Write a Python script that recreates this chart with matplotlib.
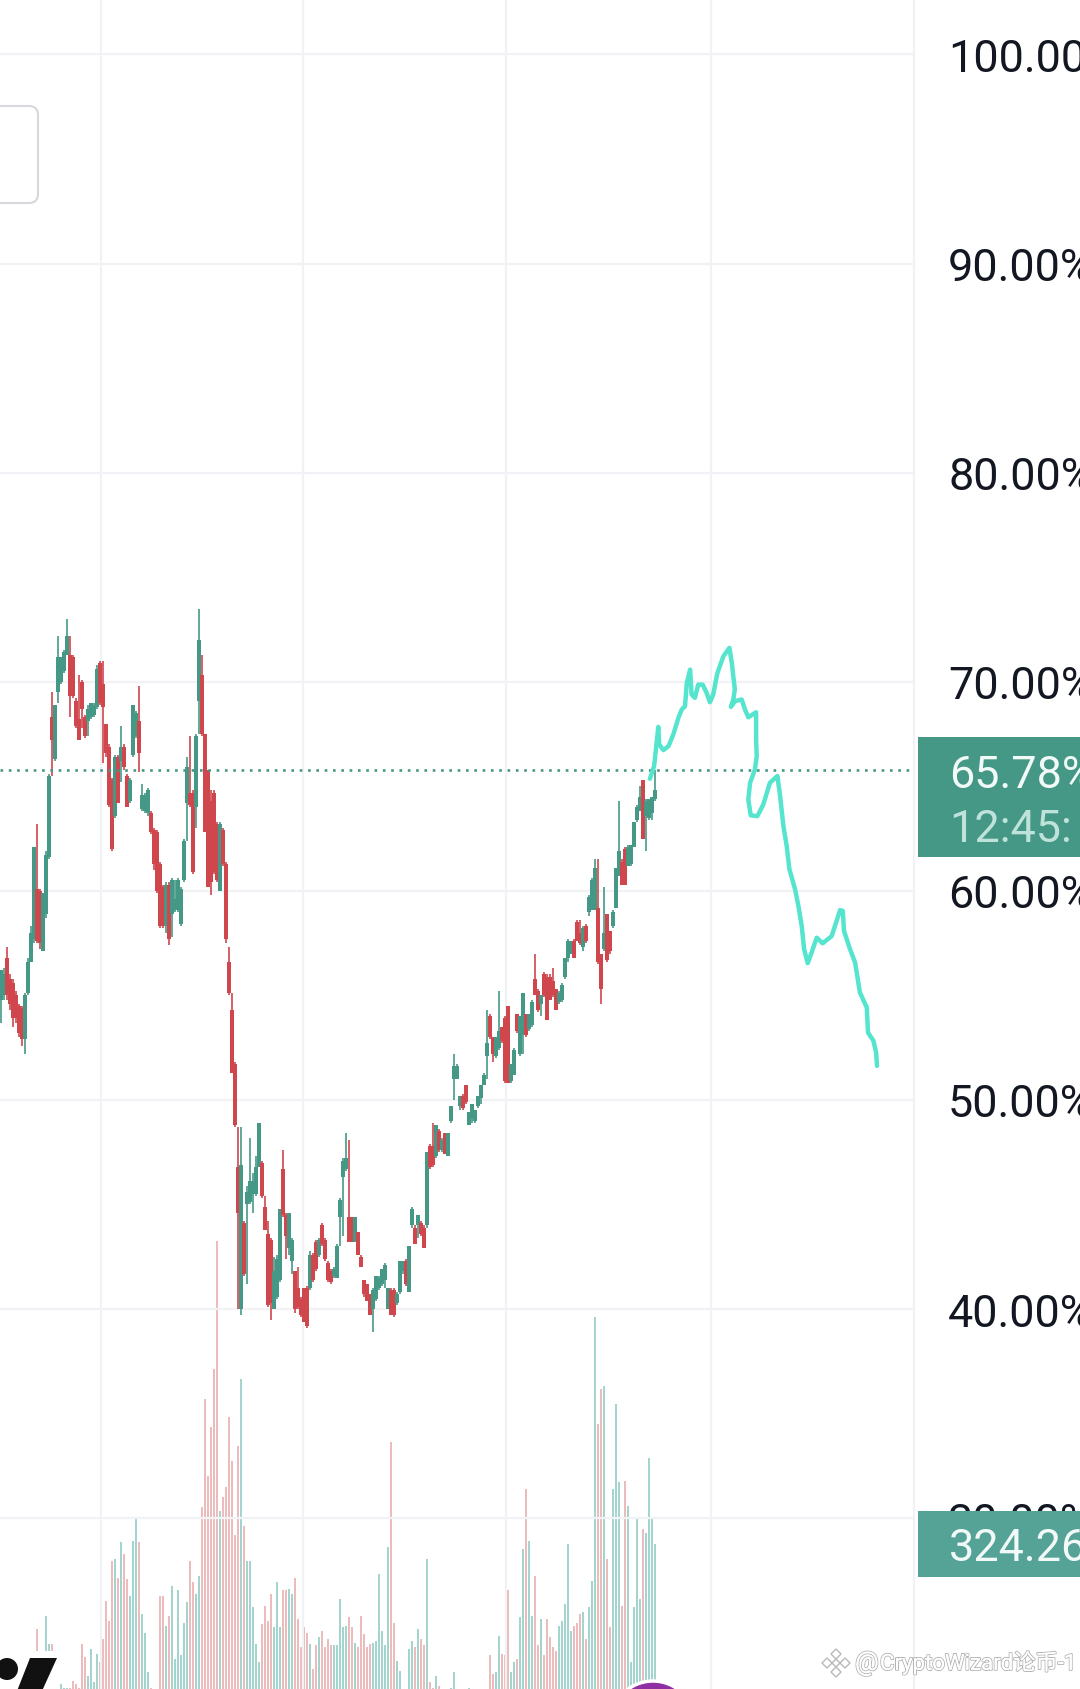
import numpy as np
import matplotlib
matplotlib.use('Agg')
import matplotlib.pyplot as plt
import matplotlib.patheffects as pe
from matplotlib.patches import Rectangle, FancyBboxPatch, Circle, Polygon, RegularPolygon

plt.rcParams['font.family'] = ['Roboto', 'Noto Sans CJK SC', 'DejaVu Sans']

# candles, percent values, one line per 10 bars
opens = [54.8,55,56.8,55.8,55.6,55,54.5,54.4,52.9,55.1,
 56.6,57.7,60.1,60,57.1,58.9,61.6,68.3,66.3,69.5,
 70,70.5,71.3,71.3,71.2,69.1,68.2,70,68.3,68.1,
 68.3,68.4,68.8,70.9,69.9,68,66.9,65.3,63.6,66.4,
 66.2,66.9,65.5,64.3,66.5,67.4,68.1,63.9,63.8,63.7,
 63.7,62.9,62.8,61.3,60.2,58.3,60.3,58.9,59.1,59.1,
 58.4,60.5,64.2,64.7,64.7,64,69.1,70.3,67.5,65.8,
 64.3,64.7,63.2,60,62.9,61.3,56.6,54.3,51.7,46.8,
 40,44.1,45,45.1,45.5,45.5,46.8,47,44.9,43.6,
 43.3,40,40.6,41.4,46.7,44.5,42.9,42.3,41.8,41,
 40.5,41,41,41,42.6,43.2,42.6,44,43.3,42.2,
 41.8,41.6,41.5,44.4,46.3,46.7,44.4,44.4,43.2,43.7,
 42.5,41.4,41.2,40.7,40,40.5,41,41.2,41.4,40,
 40.9,40.9,40.3,40.8,41.8,42.3,40.8,44,43.9,44,
 44.1,43.9,44,47.8,47.8,47.3,48.5,47.6,48.4,47.3,
 49,51,51,49.7,50.2,50.7,48.8,49.1,49,49.7,
 50.1,50.7,52.1,54,53,52.1,52.5,53.5,53.9,54.5,
 50.9,51.2,54.1,52.2,53.1,54.1,53.4,53.6,55.8,55.2,
 54.6,56,55.9,55.9,55.7,55.3,54.7,54.8,55.9,56.8,
 57,57.6,58.5,58,57.3,58.3,59,59.1,59.1,59.2,
 57,57.2,58.9,58.1,58.3,59.2,60.7,61.4,62,61.2,
 61.3,62.1,63.4,63.8,65.3,63.6,63.5,63.7,64.4]
closes = [56.2,56,55,54.6,53.9,53.9,53.2,52.9,55,56.6,
 58,62.1,57.6,57.5,59.9,61.7,65.5,67.2,68.9,71.2,
 71.2,71.4,72.2,69.3,69.3,67.9,67.2,68.7,67.4,68.7,
 69,68.9,70.6,69,68.8,66.6,64.1,62,66.4,64.2,
 66.9,65.9,64,65.3,68.9,68.5,66.6,64.6,64.6,64.8,
 62.8,61.3,60,58.3,58.3,60.3,57.7,60.5,59.6,60.5,
 60.1,62.4,65.9,64.1,60.9,67.4,72,67.5,62.8,60.2,
 60.4,60.9,60.5,63.2,61.3,57.7,55.1,51.3,48.8,44.6,
 46.9,41.7,45.6,46.1,46.1,46.8,48.9,45.4,43.8,40.2,
 40.3,41.8,42.4,44.8,44.5,43.5,44.6,43.3,40,40.1,
 39.7,39.4,39.2,42.6,41.4,41.9,43.3,43.1,42.4,41.4,
 41.3,41.9,43,45.2,47.1,47.2,43.2,43.2,44.4,42.6,
 42,40.7,40.4,39.7,40.9,41.6,41.5,41.9,42.1,41,
 39.7,39.7,40.7,42.3,42.3,41.2,43,44.8,43.1,44.5,
 43.6,42.9,47.5,46.8,46.9,48.8,47.6,48.1,47.4,48.4,
 49.7,51.6,51.6,50.2,49.6,49.9,49.4,49.8,49.5,50.2,
 50.7,51.2,52.7,53,52.2,53,53.3,52.8,50.9,50.8,
 51.7,52.4,53.3,54,55.1,53.1,54.1,54.7,55,54.3,
 55,55,53.8,54.8,55,54.3,55.1,55.5,56.8,57.6,
 57.6,56.8,57.6,57.5,58.2,57.6,59.7,60.5,61.1,56.6,
 55.3,58,56.7,57.1,59,61.1,61.9,60.3,60.3,62.1,
 62.2,63.3,64,64.5,62.5,64.3,64.4,64.5,64.8]
highs = [56.2,56.3,57.3,56,55.8,55.2,54.6,54.5,55.1,56.8,
 58.3,62.1,63.2,60.1,59.9,61.9,65.6,69.5,68.9,72.2,
 71.2,71.5,73,72.2,71.3,69.2,70.3,70.1,68.4,68.9,
 69,69,70.8,71,71,68,67,65.4,66.5,66.5,
 67.9,67,65.6,65.4,68.9,68.6,69.8,65.1,64.7,64.9,
 63.8,63,62.9,61.4,60.3,60.4,60.4,60.6,60.5,60.6,
 60.2,62.5,66.4,67.4,64.8,67.5,73.5,71.3,67.5,65.8,
 64.8,64.8,63.3,63.3,63,61.4,57.3,55.1,51.8,48.7,
 48.7,44.2,45.9,48.2,46.5,47.3,48.9,47.1,45.4,44.2,
 43.4,42.5,42.6,44.8,47.6,44.6,44.6,43.4,41.8,42,
 40.6,41,41.1,42.8,42.7,43.3,43.4,44.1,43.4,42.3,
 41.9,42,43.1,45.3,47.2,48.4,48.1,44.4,44.4,43.7,
 42.6,41.4,41.2,40.7,41,41.6,41.6,41.9,42.2,41,
 41,41,40.8,42.3,42.3,42.4,43,44.9,44,44.5,
 44.2,44,47.5,47.9,48.9,48.8,48.6,48.2,48.4,48.4,
 49.7,52.2,51.7,50.2,50.3,50.7,49.4,49.8,49.5,50.2,
 50.7,51.3,54.3,54.1,53,53,55.2,53.5,54,54.5,
 51.7,52.5,54.1,54,55.1,54.1,54.1,54.8,57,55.3,
 55,56.1,56,56,56.3,55.3,55.2,55.6,56.8,57.7,
 57.6,57.7,58.6,58.6,58.3,58.4,59.8,60.6,61.5,61.5,
 57,60.2,58.9,58.1,59.1,61.1,64.3,61.5,62.1,62.2,
 62.2,63.3,64.1,65,65.3,64.4,64.4,64.5,65.8]
lows = [53.7,54.8,54.8,54.3,53.5,53.7,53,52.6,52.2,55,
 56.6,57.5,57.5,57.2,57.1,58.7,61.5,65.5,66.2,69,
 69.9,70.4,71.3,68.3,69.2,67.8,67.2,67.8,67.3,67.4,
 68.2,68.3,68.7,68.9,66.1,66.4,64,61.9,63.5,64.2,
 65.2,65.8,64,64.2,66.4,67.3,65.7,63.8,63.7,63.6,
 62.7,61,59.9,58.2,58.2,58,57.4,57.8,59,59,
 58.3,60.4,62.4,64,60.8,63,67.5,67.4,62.8,60.2,
 59.8,60.8,60.4,60,61.2,57.5,55,51.3,48.7,40,
 39.7,41.6,41.2,45,44.6,45.4,46.8,45.3,43.8,40.1,
 39.5,40,40.5,41.3,44.4,42.4,42.6,41.7,39.8,40,
 39.6,39.4,39.1,40.9,41.3,41.8,42.5,43,42.3,41.3,
 41.2,41.5,41.5,43,43.5,46.6,43.2,43.2,43.2,42.6,
 42,40.6,40.4,39.7,38.9,40.4,40.9,41.1,41,40,
 39.7,39.6,40.2,40.7,41.7,41.1,40.8,43.9,43.1,43.4,
 43.5,42.9,43.9,46.7,46.8,47.2,47.5,47.5,47.4,47.3,
 48.9,50,51,49.5,49.5,49.8,48.8,48.9,48.9,49.6,
 49.8,50.7,51,52.9,51.8,52,52.4,52.7,50.8,50.8,
 50.8,51.2,53.2,52.1,52.2,53,53.3,53.5,55,54.2,
 54,54.9,53.8,54.8,54.9,54.3,54.6,54.7,55.8,56.6,
 57,56.8,57.6,57.4,57.1,57.5,58.8,59.1,59.1,56.5,
 54.6,57.1,56.6,57,58.2,59.2,60.7,60.3,60.3,61.2,
 61.2,62.1,63.3,63.8,62.5,61.9,63.4,63.4,64.3]
volumes = [5,5,5,5,5,5,5,5,5,5,
 5,5,146,5,10,174,115,115,10,56,
 31,24,24,24,38,31,24,115,87,49,
 105,35,94,77,125,206,164,289,293,254,
 328,303,251,216,331,376,328,178,139,56,
 24,12,12,216,216,153,174,237,84,227,
 91,160,202,289,244,220,258,401,627,467,
 568,690,958,394,422,443,589,498,342,530,
 669,362,289,289,192,115,77,157,195,164,
 220,150,244,150,227,227,230,220,254,167,
 108,150,139,115,63,112,129,143,108,125,
 112,112,112,209,150,153,171,150,118,108,
 174,136,108,115,118,122,261,143,112,317,
 537,160,80,59,15,15,105,122,108,146,
 125,112,293,35,24,49,28,15,15,15,
 24,56,15,12,12,12,24,12,12,12,
 12,12,12,91,52,56,132,94,91,227,
 56,77,84,171,314,439,331,174,258,112,
 167,91,167,129,108,101,153,164,199,324,
 143,153,160,178,181,125,192,247,798,575,
 648,655,293,150,439,617,453,195,457,404,
 77,192,380,209,355,348,505,380,324.26]

# hand drawn projection, x in bar positions
sketch_x = [216.3,217.7,218.3,219.1,219.4,220.8,222.5,224.1,225.8,226.9,228,228.6,229.7,230.2,231.3,
 232.4,233.9,235.2,236.3,237.4,238.8,240.8,242.8,243.6,244.6,244.1,243.3,244.7,246.9,248,249.1,
 251.7,251.7,251.9,251.3,249.7,249.1,249.9,252.1,254.1,256.3,258.8,259.7,260.8,261.9,262.8,264.7,
 265.8,266.9,267.7,268.9,270.2,271.9,273.9,276.9,279.7,280.6,281,283,284.7,286.3,288.6,289,290.8,291.7,292]
sketch_y = [65.36,65.96,66.76,67.84,67,66.73,66.92,67.48,68.27,68.67,68.83,69.94,70.58,69.39,69.23,
 69.86,69.86,69.47,69.02,69.39,70.42,71.22,71.62,70.9,69.63,69.15,68.8,69.07,69.15,68.67,68.3,
 68.54,67.24,66.44,65.8,65.17,64.37,63.61,63.57,64.13,65.17,65.49,64.53,63.1,62.14,61.03,60.07,
 59.28,58.32,57.21,56.54,57.05,57.76,57.49,57.84,59.08,59.04,58.08,57.21,56.57,55.14,54.42,53.22,52.83,52.27,51.63]

last_price = 65.78
y_ticks = [30, 40, 50, 60, 70, 80, 90, 100]
y_labels = ['30.00%', '40.00%', '50.00%', '60.00%', '70.00%', '80.00%', '90.00%', '100.00%']
grid_x = [33.3, 100.7, 168.3, 236.7]

GREEN = '#459885'
RED = '#cf464d'
GRID = '#f1f2f5'

W, H = 1080, 1690
fig = plt.figure(figsize=(W/100, H/100), dpi=100, facecolor='white')
pos = [0, 0, 914/W, 1]

idx = np.arange(len(closes))
o = np.array(opens)
c = np.array(closes)
up = c >= o

# volume pane sits under the candles
ax_vol = fig.add_axes(pos, zorder=1)
ax_vol.set_xlim(-1/3, 304.33)
ax_vol.set_ylim(20.9, 3556)
ax_vol.axis('off')
ax_vol.bar(idx, volumes, width=0.8, color=np.where(up, '#8ccbc2', '#e8aaaa'), alpha=0.8, linewidth=0)

ax = fig.add_axes(pos, zorder=2)
ax.patch.set_visible(False)
ax.set_xlim(-1/3, 304.33)
ax.set_ylim(21.83, 102.65)
ax.set_xticks(grid_x)
ax.set_xticklabels([])
ax.yaxis.tick_right()
ax.set_yticks(y_ticks)
ax.set_yticklabels(y_labels, fontsize=32.4, color='#131722')
ax.tick_params(axis='both', length=0)
ax.tick_params(axis='y', pad=24.5)
ax.grid(True, color=GRID, lw=1.6)
ax.set_axisbelow(True)
for s in ['top', 'left', 'bottom']:
    ax.spines[s].set_visible(False)
ax.spines['right'].set_color(GRID)
ax.spines['right'].set_linewidth(1.6)

colors = np.where(up, GREEN, RED)
ax.vlines(idx, lows, highs, colors=colors, lw=1.2, zorder=3)
ax.bar(idx, np.abs(c - o), bottom=np.minimum(o, c), width=1.05, color=colors, linewidth=0, zorder=3)
ax.axhline(last_price, color=GREEN, lw=1.9, ls=(0, (1, 2.15)), zorder=3)
ax.plot(sketch_x, sketch_y, color='#55e4cd', lw=3.2, solid_capstyle='round', solid_joinstyle='round', zorder=4)

# overlay in pixel coordinates for labels and the screenshot furniture
ov = fig.add_axes([0, 0, 1, 1], zorder=5)
ov.set_xlim(0, W)
ov.set_ylim(H, 0)
ov.axis('off')

ov.add_patch(FancyBboxPatch((-20, 107), 58, 97, boxstyle='round,pad=0,rounding_size=9',
                            fc='white', ec='#d6d8de', lw=1.5))

ov.add_patch(Rectangle((918, 738), 170, 120, fc='#459885', ec='none'))
ov.text(949, 776, '65.78%', color='#f2faf8', fontsize=32.4, va='center', ha='left')
ov.text(949, 830, '12:45:', color='#bfe3da', fontsize=32.4, va='center', ha='left')
ov.add_patch(Rectangle((918, 1512), 170, 66, fc='#55a397', ec='none'))
ov.text(949, 1549, '324.26', color='#f2faf8', fontsize=32.4, va='center', ha='left')

# chart logo bottom left
ov.add_patch(Rectangle((0, 1652), 60, 40, fc='white', ec='none'))
ov.add_patch(Circle((7, 1670), 11, fc='#111111', ec='none'))
ov.add_patch(Polygon([(30, 1659), (57, 1659), (42, 1692), (17, 1692)], fc='#111111', ec='none'))

# purple avatar cut off by the screenshot edge
ov.add_patch(Circle((653, 1724), 42, fc='#8e2fa3', ec='white', lw=2.5))

# watermark
halo = [pe.withStroke(linewidth=1.4, foreground='#b4b4b4'), pe.Normal()]
for dx, dy, r in [(0, -9, 5), (-9, 0, 5), (9, 0, 5), (0, 9, 5), (0, 0, 4)]:
    ov.add_patch(RegularPolygon((836 + dx, 1664 + dy), 4, radius=r, fc='white', ec='#b8b8b8', lw=1))
ov.text(855, 1664, '@', color='white', fontsize=19, va='center', ha='left', path_effects=halo)
ov.text(880, 1664, 'CryptoWizard论币-1', color='white', fontsize=16, va='center', ha='left', path_effects=halo)

fig.savefig('out.png', dpi=100)
